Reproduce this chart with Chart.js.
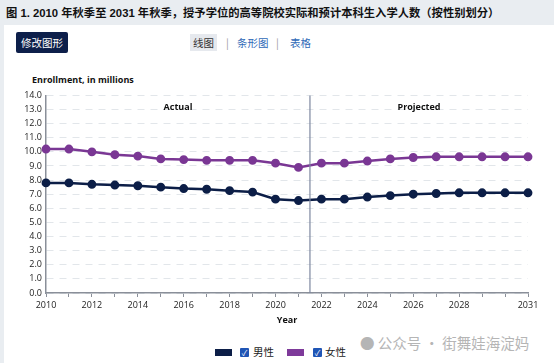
<!DOCTYPE html>
<html>
<head>
<meta charset="utf-8">
<script src="https://cdn.jsdelivr.net/npm/chart.js@4.4.0/dist/chart.umd.min.js"></script>
<style>
  body { margin:0; width:554px; height:363px; background:#e9edf1; font-family:"Open Sans","Noto Sans CJK SC",sans-serif; overflow:hidden; position:relative; }
  .title { position:absolute; left:6px; top:4px; font-size:11.3px; font-weight:bold; color:#111; font-family:"Liberation Sans","Noto Sans CJK SC",sans-serif; }
  .panel { position:absolute; left:4px; top:25px; width:550px; height:338px; background:#fff; }
  .btn { position:absolute; left:16px; top:32px; width:52px; height:21px; background:#0d1f4a; color:#fff; border-radius:2px; font-size:10.5px; line-height:21px; text-align:center; font-family:"Noto Sans CJK SC",sans-serif; }
  .tabs { position:absolute; top:34px; left:190px; font-size:10.5px; font-family:"Noto Sans CJK SC",sans-serif; color:#2f6ab7; }
  .tabs span { position:absolute; white-space:nowrap; line-height:17px; }
  .tabs .on { background:#e6e9ee; color:#333; padding:0 3px; left:0; }
  .tabs .sep { color:#999; }
  .ytitle { position:absolute; left:32px; top:73px; font-size:9px; font-weight:bold; color:#111; }
  #holder { position:absolute; left:4px; top:86px; width:550px; height:243px; }
  .legend { position:absolute; top:344px; left:215px; font-size:10.5px; font-family:"Noto Sans CJK SC",sans-serif; color:#222; }
  .legend span { position:absolute; white-space:nowrap; }
  .sw { width:17px; height:7px; top:5px; }
  .cb { width:9px; height:9px; top:4px; background:#1f55b5; border-radius:1px; color:#fff; font-size:8px; line-height:9px; text-align:center; }
  .wm { position:absolute; left:360px; top:332px; font-size:14.5px; color:#b5b5b5; font-family:"Noto Sans CJK SC",sans-serif; white-space:nowrap; }
</style>
</head>
<body>
<div class="title">图 1. 2010 年秋季至 2031 年秋季，授予学位的高等院校实际和预计本科生入学人数（按性别划分）</div>
<div class="panel"></div>
<div class="btn">修改图形</div>
<div class="tabs">
  <span class="on">线图</span>
  <span class="sep" style="left:36px">|</span>
  <span style="left:47px">条形图</span>
  <span class="sep" style="left:86px">|</span>
  <span style="left:100px">表格</span>
</div>
<div class="ytitle">Enrollment, in millions</div>
<div id="holder"><canvas id="chart-area"></canvas></div>
<div class="wm">● 公众号 · 街舞娃海淀妈</div>
<div class="legend">
  <span class="sw" style="left:0;background:#0c1e47"></span>
  <span class="cb" style="left:25px">✓</span>
  <span style="left:38px;top:0">男性</span>
  <span class="sw" style="left:72px;background:#7e3a9a"></span>
  <span class="cb" style="left:98px">✓</span>
  <span style="left:110px;top:0">女性</span>
</div>
<script>
var years = ['2010','2011','2012','2013','2014','2015','2016','2017','2018','2019','2020',
             '2021','2022','2023','2024','2025','2026','2027','2028','2029','2030','2031'];
var male = [7.8, 7.8, 7.7, 7.65, 7.6, 7.5, 7.4, 7.35, 7.25, 7.15, 6.65,
            6.55, 6.65, 6.65, 6.8, 6.9, 7.0, 7.05, 7.1, 7.1, 7.1, 7.1];
var female = [10.2, 10.2, 10.0, 9.8, 9.7, 9.5, 9.45, 9.4, 9.4, 9.4, 9.2,
              8.9, 9.2, 9.2, 9.35, 9.5, 9.6, 9.65, 9.65, 9.65, 9.65, 9.65];
var shownYears = ['2010','2012','2014','2016','2018','2020','2022','2024','2026','2028','2031'];
var lastActual = 11; // 2021

var splitLine = {
  id: 'splitLine',
  afterDatasetsDraw: function(chart) {
    var ctx = chart.ctx, x = chart.scales.x, a = chart.chartArea;
    var px = (x.getPixelForValue(lastActual) + x.getPixelForValue(lastActual + 1)) / 2;
    ctx.save();
    ctx.strokeStyle = '#7d879f';
    ctx.lineWidth = 1.2;
    ctx.beginPath();
    ctx.moveTo(px, a.top);
    ctx.lineTo(px, a.bottom);
    ctx.stroke();
    ctx.fillStyle = '#111';
    ctx.font = 'bold 9px "Open Sans", sans-serif';
    ctx.textAlign = 'center';
    ctx.textBaseline = 'middle';
    ctx.fillText('Actual', (a.left + px) / 2, a.top + 12);
    ctx.fillText('Projected', (px + a.right) / 2, a.top + 12);
    ctx.restore();
  }
};

var config = {
  type: 'line',
  data: {
    labels: years,
    datasets: [{
      label: '男性',
      data: male,
      borderColor: '#0c1e47',
      backgroundColor: '#0c1e47',
      borderWidth: 2.5,
      pointRadius: 3.2,
      tension: 0
    }, {
      label: '女性',
      data: female,
      borderColor: '#7a3794',
      backgroundColor: '#7a3794',
      borderWidth: 2.5,
      pointRadius: 3.2,
      tension: 0
    }]
  },
  options: {
    responsive: true,
    maintainAspectRatio: false,
    animation: false,
    layout: { padding: { top: 8, right: 26, bottom: 0, left: 0 } },
    plugins: { legend: { display: false }, tooltip: { enabled: false } },
    scales: {
      x: {
        offset: false,
        afterFit: function(s) { s.height = 36; },
        grid: { display: true, drawOnChartArea: false, tickLength: 4, color: '#8a8f99' },
        border: { color: '#8a8f99', width: 1.5 },
        ticks: {
          autoSkip: false, maxRotation: 0, color: '#222', padding: 3,
          font: { size: 9, family: '"Open Sans", sans-serif' },
          callback: function(v) {
            var y = this.getLabelForValue(v);
            return shownYears.indexOf(y) >= 0 ? y : '';
          }
        },
        title: { display: true, text: 'Year', color: '#111', padding: { top: 3, bottom: 3 },
                 font: { size: 9, weight: 'bold', family: '"Open Sans", sans-serif' } }
      },
      y: {
        min: 0, max: 14,
        afterFit: function(s) { s.width = 42; },
        ticks: {
          stepSize: 1, color: '#222', padding: 4,
          font: { size: 9, family: '"Open Sans", sans-serif' },
          callback: function(v) { return v.toFixed(1); }
        },
        grid: { color: '#e2e6ea', lineWidth: 1, drawTicks: false },
        border: { color: '#8a8f99', width: 1.5, dash: [7, 6] }
      }
    }
  },
  plugins: [splitLine]
};

window.onload = function() {
  var ctx = document.getElementById('chart-area').getContext('2d');
  window.myLine = new Chart(ctx, config);
};
</script>
</body>
</html>
